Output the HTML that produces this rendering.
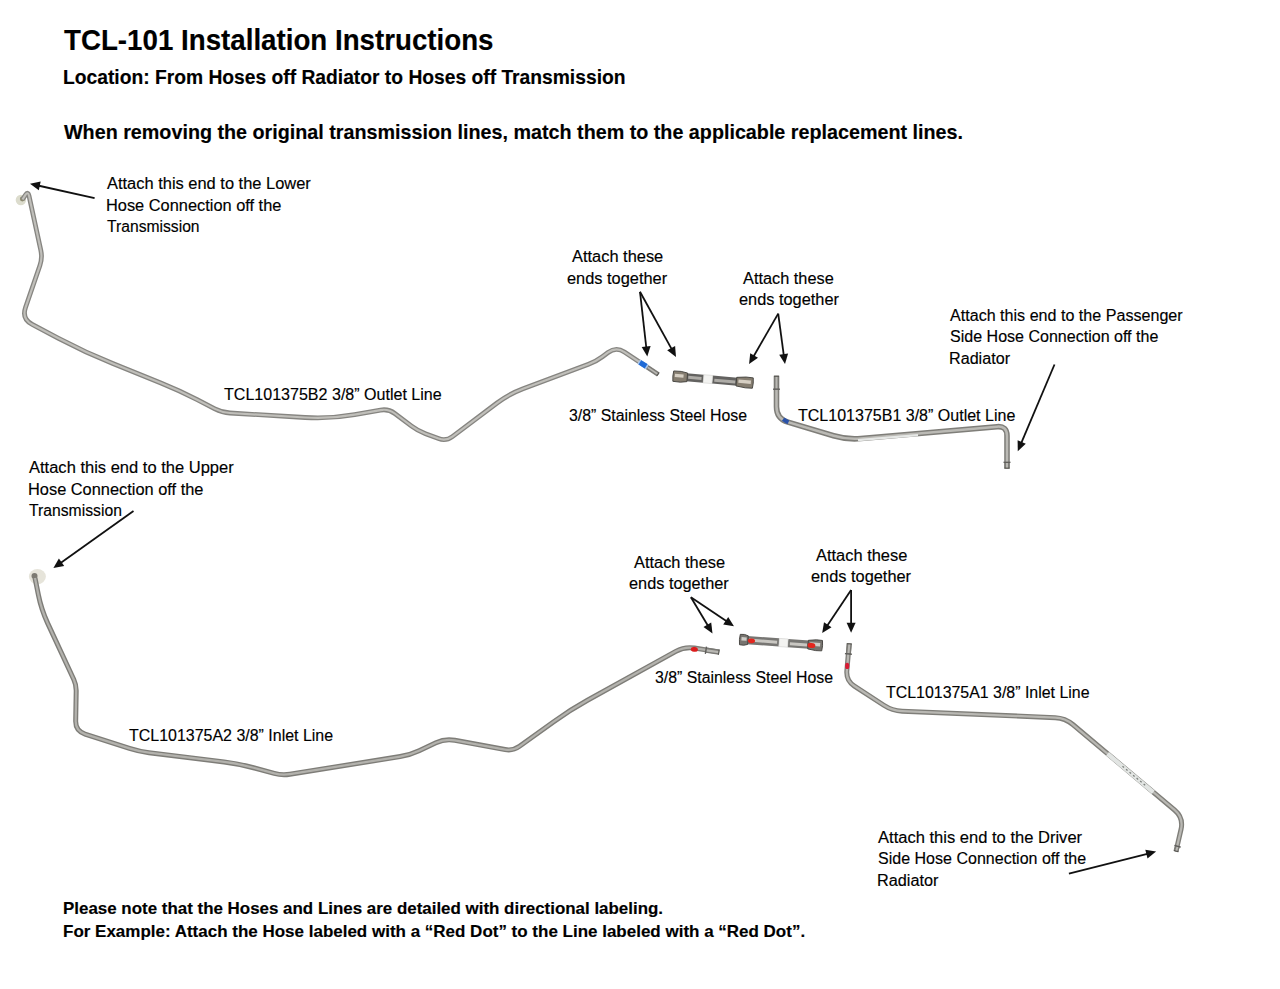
<!DOCTYPE html>
<html><head><meta charset="utf-8"><title>TCL-101 Installation Instructions</title>
<style>
html,body{margin:0;padding:0;background:#fff;}
body{width:1280px;height:989px;position:relative;overflow:hidden;font-family:"Liberation Sans",sans-serif;color:#000;}
.t{position:absolute;white-space:nowrap;line-height:1;transform-origin:0 0;color:#000;-webkit-text-stroke:0.15px #000;}
.b{font-weight:bold;}
svg{position:absolute;left:0;top:0;}
</style></head><body>
<svg width="1280" height="989" viewBox="0 0 1280 989"><circle cx="20.9" cy="200" r="5.2" fill="#dcdccd"/><circle cx="22.3" cy="199" r="2.4" fill="#8d8b72"/><ellipse cx="37.4" cy="576.6" rx="8.5" ry="7.6" fill="#e6e4da"/><circle cx="34.5" cy="576" r="3" fill="#7d7a72"/><path d="M22.5,199.5 L25.28,195.20 Q28.00,191.00 29.06,195.89 L40.81,250.18 Q42.50,258.00 39.90,265.57 L25.50,307.55 Q21.60,318.90 32.22,324.49 L58.46,338.32 Q85.00,352.30 112.80,363.58 L160.87,383.08 Q179.40,390.60 197.19,399.74 L214.89,408.84 Q222.00,412.50 229.99,412.98 L305.05,417.50 Q330.00,419.00 354.62,414.66 L380.52,410.09 Q388.40,408.70 394.79,413.51 L411.61,426.19 Q418.00,431.00 425.50,433.79 L438.50,438.61 Q446.00,441.40 452.39,436.59 L497.01,403.02 Q509.00,394.00 523.05,388.75 L588.51,364.30 Q596.00,361.50 602.41,356.72 L608.09,352.48 Q616.10,346.50 624.43,352.03 L658.3,374.5" fill="none" stroke="#868581" stroke-width="4.8" stroke-linejoin="round" stroke-linecap="butt"/><path d="M22.5,199.5 L25.28,195.20 Q28.00,191.00 29.06,195.89 L40.81,250.18 Q42.50,258.00 39.90,265.57 L25.50,307.55 Q21.60,318.90 32.22,324.49 L58.46,338.32 Q85.00,352.30 112.80,363.58 L160.87,383.08 Q179.40,390.60 197.19,399.74 L214.89,408.84 Q222.00,412.50 229.99,412.98 L305.05,417.50 Q330.00,419.00 354.62,414.66 L380.52,410.09 Q388.40,408.70 394.79,413.51 L411.61,426.19 Q418.00,431.00 425.50,433.79 L438.50,438.61 Q446.00,441.40 452.39,436.59 L497.01,403.02 Q509.00,394.00 523.05,388.75 L588.51,364.30 Q596.00,361.50 602.41,356.72 L608.09,352.48 Q616.10,346.50 624.43,352.03 L658.3,374.5" fill="none" stroke="#c0bfba" stroke-width="2.16" stroke-linejoin="round" stroke-linecap="butt"/><path d="M776.5,375.8 L776.50,406.70 Q776.50,418.70 788.00,422.14 L833.59,435.79 Q847.00,439.80 860.95,438.58 L997.04,426.67 Q1007.00,425.80 1007.00,435.80 L1007.0,468.4" fill="none" stroke="#7f7e79" stroke-width="5.6" stroke-linejoin="round" stroke-linecap="butt"/><path d="M776.5,375.8 L776.50,406.70 Q776.50,418.70 788.00,422.14 L833.59,435.79 Q847.00,439.80 860.95,438.58 L997.04,426.67 Q1007.00,425.80 1007.00,435.80 L1007.0,468.4" fill="none" stroke="#bbbab5" stroke-width="2.52" stroke-linejoin="round" stroke-linecap="butt"/><path d="M35.0,578.0 L38.36,594.79 Q41.30,609.50 47.61,623.11 L73.78,679.56 Q76.30,685.00 76.20,691.00 L75.67,721.00 Q75.50,731.00 85.02,734.07 L129.48,748.43 Q139.00,751.50 148.93,752.72 L224.11,761.97 Q239.00,763.80 253.47,767.74 L274.28,773.40 Q282.00,775.50 289.90,774.23 L400.13,756.58 Q410.00,755.00 419.05,750.74 L435.95,742.76 Q445.00,738.50 454.84,740.31 L505.13,749.55 Q513.00,751.00 519.49,746.33 L553.76,721.68 Q570.00,710.00 587.49,700.31 L675.85,651.35 Q684.60,646.50 694.47,648.08 L718.4,651.9" fill="none" stroke="#7e7d78" stroke-width="5.0" stroke-linejoin="round" stroke-linecap="butt"/><path d="M35.0,578.0 L38.36,594.79 Q41.30,609.50 47.61,623.11 L73.78,679.56 Q76.30,685.00 76.20,691.00 L75.67,721.00 Q75.50,731.00 85.02,734.07 L129.48,748.43 Q139.00,751.50 148.93,752.72 L224.11,761.97 Q239.00,763.80 253.47,767.74 L274.28,773.40 Q282.00,775.50 289.90,774.23 L400.13,756.58 Q410.00,755.00 419.05,750.74 L435.95,742.76 Q445.00,738.50 454.84,740.31 L505.13,749.55 Q513.00,751.00 519.49,746.33 L553.76,721.68 Q570.00,710.00 587.49,700.31 L675.85,651.35 Q684.60,646.50 694.47,648.08 L718.4,651.9" fill="none" stroke="#b3b2ad" stroke-width="2.25" stroke-linejoin="round" stroke-linecap="butt"/><path d="M849.2,643.5 L846.86,670.64 Q846.00,680.60 854.38,686.06 L883.82,705.24 Q892.20,710.70 902.19,711.13 L1055.21,717.67 Q1065.20,718.10 1072.86,724.53 L1174.51,809.98 Q1183.70,817.70 1181.02,829.40 L1176.0,851.3" fill="none" stroke="#7f7e79" stroke-width="5.0" stroke-linejoin="round" stroke-linecap="butt"/><path d="M849.2,643.5 L846.86,670.64 Q846.00,680.60 854.38,686.06 L883.82,705.24 Q892.20,710.70 902.19,711.13 L1055.21,717.67 Q1065.20,718.10 1072.86,724.53 L1174.51,809.98 Q1183.70,817.70 1181.02,829.40 L1176.0,851.3" fill="none" stroke="#b9b8b3" stroke-width="2.25" stroke-linejoin="round" stroke-linecap="butt"/><line x1="647.30" y1="367.10" x2="658.30" y2="374.50" stroke="#7a7975" stroke-width="3.9" stroke-linecap="butt"/><line x1="647.71" y1="367.38" x2="657.89" y2="374.22" stroke="#b9b8b3" stroke-width="1.638" stroke-linecap="butt"/><line x1="657.47" y1="373.94" x2="658.30" y2="374.50" stroke="#55544f" stroke-width="3.9" stroke-linecap="butt"/><line x1="776.50" y1="389.20" x2="776.50" y2="375.80" stroke="#7a7975" stroke-width="5.0" stroke-linecap="butt"/><line x1="776.50" y1="388.70" x2="776.50" y2="376.30" stroke="#b9b8b3" stroke-width="2.1" stroke-linecap="butt"/><line x1="776.50" y1="376.80" x2="776.50" y2="375.80" stroke="#55544f" stroke-width="5.0" stroke-linecap="butt"/><line x1="773.00" y1="389.20" x2="780.00" y2="389.20" stroke="#5e5d5a" stroke-width="1.3" stroke-linecap="butt"/><line x1="1007.00" y1="462.30" x2="1007.00" y2="468.60" stroke="#7a7975" stroke-width="5.0" stroke-linecap="butt"/><line x1="1007.00" y1="462.80" x2="1007.00" y2="468.10" stroke="#b9b8b3" stroke-width="2.1" stroke-linecap="butt"/><line x1="1007.00" y1="467.60" x2="1007.00" y2="468.60" stroke="#55544f" stroke-width="5.0" stroke-linecap="butt"/><line x1="1010.50" y1="462.30" x2="1003.50" y2="462.30" stroke="#5e5d5a" stroke-width="1.3" stroke-linecap="butt"/><line x1="705.90" y1="650.20" x2="719.30" y2="652.20" stroke="#7a7975" stroke-width="5.4" stroke-linecap="butt"/><line x1="706.39" y1="650.27" x2="718.81" y2="652.13" stroke="#b9b8b3" stroke-width="2.2680000000000002" stroke-linecap="butt"/><line x1="718.31" y1="652.05" x2="719.30" y2="652.20" stroke="#55544f" stroke-width="5.4" stroke-linecap="butt"/><line x1="706.45" y1="646.54" x2="705.35" y2="653.86" stroke="#5e5d5a" stroke-width="1.3" stroke-linecap="butt"/><line x1="848.40" y1="653.90" x2="849.40" y2="643.40" stroke="#7a7975" stroke-width="5.0" stroke-linecap="butt"/><line x1="848.45" y1="653.40" x2="849.35" y2="643.90" stroke="#b9b8b3" stroke-width="2.1" stroke-linecap="butt"/><line x1="849.31" y1="644.40" x2="849.40" y2="643.40" stroke="#55544f" stroke-width="5.0" stroke-linecap="butt"/><line x1="844.92" y1="653.57" x2="851.88" y2="654.23" stroke="#5e5d5a" stroke-width="1.3" stroke-linecap="butt"/><line x1="1177.60" y1="846.20" x2="1176.00" y2="851.60" stroke="#7a7975" stroke-width="4.6" stroke-linecap="butt"/><line x1="1177.46" y1="846.68" x2="1176.14" y2="851.12" stroke="#b9b8b3" stroke-width="1.9319999999999997" stroke-linecap="butt"/><line x1="1176.28" y1="850.64" x2="1176.00" y2="851.60" stroke="#55544f" stroke-width="4.6" stroke-linecap="butt"/><line x1="1180.76" y1="847.14" x2="1174.44" y2="845.26" stroke="#5e5d5a" stroke-width="1.3" stroke-linecap="butt"/><line x1="638.7" y1="361.6" x2="647.3" y2="367.1" stroke="#a9c8ee" stroke-width="5.2"/><line x1="639.9" y1="362.4" x2="646.1" y2="366.3" stroke="#1f6ad6" stroke-width="5.2"/><path d="M783.2,419.2 Q785.3,420.9 788.4,422.4" fill="none" stroke="#2a52a8" stroke-width="4.2"/><ellipse cx="694.3" cy="649.4" rx="3.6" ry="2.3" transform="rotate(8 694.3 649.4)" fill="#dc1c1c"/><ellipse cx="847.2" cy="665.9" rx="2.1" ry="3.2" fill="#d81c34"/><line x1="858" y1="440.2" x2="918" y2="435.2" stroke="#e6e8e6" stroke-width="2.2"/><line x1="1107.5" y1="753.8" x2="1153.3" y2="792.2" stroke="#e2e5e3" stroke-width="4.4"/><line x1="1122.5" y1="766.3" x2="1146" y2="786" stroke="#7d807d" stroke-width="1.3" stroke-dasharray="2 2.6"/><g transform="translate(672.8,376.1) rotate(4.97)"><rect x="13.5" y="-4.1" width="17.3" height="8.2" fill="#636260"/><rect x="39.7" y="-4.1" width="25.10377466430637" height="8.2" fill="#636260"/><rect x="15.5" y="-1.6" width="13.3" height="3" fill="#aeaca7"/><rect x="41.7" y="-1.0" width="21.10377466430637" height="3" fill="#aeaca7"/><rect x="30.8" y="-4.1" width="8.9" height="8.2" fill="#f3f3f1" stroke="#c9c9c6" stroke-width="0.5"/><path d="M0.5,-5.2 L7.98,-5.4 L14.5,-4.3 L14.5,4.3 L7.98,5.4 L0.5,5.2 Q-0.4,0 0.5,-5.2 Z" fill="#857d70" stroke="#44423e" stroke-width="0.9"/><rect x="2" y="-2.6" width="8.70" height="3.4" fill="#d6cfc3"/><path d="M80.30377466430637,-5.2 L73.15,-5.4 L63.803774664306374,-4.3 L63.803774664306374,4.3 L73.15,5.4 L80.30377466430637,5.2 Q81.20377466430638,0 80.30377466430637,-5.2 Z" fill="#857d70" stroke="#44423e" stroke-width="0.9"/><rect x="65.80377466430637" y="-2.4" width="12.50" height="3.4" fill="#d6cfc3"/></g><g transform="translate(739.4,639.5) rotate(4.26)"><rect x="7.6" y="-4.1" width="32.199999999999996" height="8.2" fill="#777673"/><rect x="48.599999999999994" y="-4.1" width="21.23068979698064" height="8.2" fill="#777673"/><rect x="9.6" y="-1.6" width="28.199999999999996" height="3" fill="#c9c7c2"/><rect x="50.599999999999994" y="-1.0" width="17.23068979698064" height="3" fill="#c9c7c2"/><rect x="39.8" y="-4.1" width="8.8" height="8.2" fill="#f3f3f1" stroke="#c9c9c6" stroke-width="0.5"/><path d="M0.5,-5.2 L4.73,-5.4 L8.6,-4.3 L8.6,4.3 L4.73,5.4 L0.5,5.2 Q-0.4,0 0.5,-5.2 Z" fill="#77746f" stroke="#44423e" stroke-width="0.9"/><rect x="2" y="-2.6" width="5.16" height="3.4" fill="#cfcdc8"/><path d="M82.93068979698063,-5.2 L76.86,-5.4 L68.83068979698064,-4.3 L68.83068979698064,4.3 L76.86,5.4 L82.93068979698063,5.2 Q83.83068979698064,0 82.93068979698063,-5.2 Z" fill="#77746f" stroke="#44423e" stroke-width="0.9"/><rect x="70.83068979698064" y="-2.4" width="10.10" height="3.4" fill="#cfcdc8"/><ellipse cx="12.1" cy="0.4" rx="3.6" ry="2.4" fill="#e3261e"/><ellipse cx="72.33068979698064" cy="0.6" rx="3.9" ry="2.6" fill="#e3261e"/></g><line x1="94.6" y1="198.2" x2="37.8" y2="185.5" stroke="#111" stroke-width="1.8"/><polygon points="30.0,183.7 40.7,181.5 38.8,190.3" fill="#111"/><line x1="640.0" y1="291.8" x2="646.4" y2="348.5" stroke="#111" stroke-width="1.8"/><polygon points="647.3,356.4 641.7,347.0 650.6,346.0" fill="#111"/><line x1="640.0" y1="291.8" x2="672.1" y2="349.9" stroke="#111" stroke-width="1.8"/><polygon points="676.0,356.9 667.2,350.3 675.1,346.0" fill="#111"/><line x1="778.2" y1="313.6" x2="753.1" y2="357.2" stroke="#111" stroke-width="1.8"/><polygon points="749.1,364.1 750.2,353.2 758.0,357.7" fill="#111"/><line x1="778.2" y1="313.6" x2="783.9" y2="356.2" stroke="#111" stroke-width="1.8"/><polygon points="785.0,364.1 779.2,354.8 788.1,353.6" fill="#111"/><line x1="1054.5" y1="364.5" x2="1020.9" y2="443.8" stroke="#111" stroke-width="1.8"/><polygon points="1017.8,451.2 1017.6,440.2 1025.8,443.7" fill="#111"/><line x1="133.5" y1="511.0" x2="59.9" y2="563.4" stroke="#111" stroke-width="1.8"/><polygon points="53.4,568.0 58.9,558.5 64.2,565.9" fill="#111"/><line x1="690.9" y1="597.2" x2="708.4" y2="626.5" stroke="#111" stroke-width="1.8"/><polygon points="712.5,633.4 703.5,627.1 711.2,622.5" fill="#111"/><line x1="690.9" y1="597.2" x2="727.4" y2="621.8" stroke="#111" stroke-width="1.8"/><polygon points="734.0,626.2 723.2,624.4 728.2,616.9" fill="#111"/><line x1="851.1" y1="590.1" x2="826.7" y2="626.5" stroke="#111" stroke-width="1.8"/><polygon points="822.2,633.1 824.0,622.3 831.5,627.3" fill="#111"/><line x1="851.1" y1="590.1" x2="851.1" y2="624.8" stroke="#111" stroke-width="1.8"/><polygon points="851.1,632.8 846.6,622.8 855.6,622.8" fill="#111"/><line x1="1068.9" y1="873.6" x2="1148.3" y2="853.6" stroke="#111" stroke-width="1.8"/><polygon points="1156.1,851.6 1147.5,858.4 1145.3,849.7" fill="#111"/></svg>
<div class="t b" style="left:63.80px;top:24.81px;font-size:30px;transform:scaleX(0.9236)">TCL-101 Installation Instructions</div>
<div class="t b" style="left:63.21px;top:67.99px;font-size:19.5px;transform:scaleX(0.9870)">Location: From Hoses off Radiator to Hoses off Transmission</div>
<div class="t b" style="left:64.40px;top:122.30px;font-size:20.2px;transform:scaleX(0.9773)">When removing the original transmission lines, match them to the applicable replacement lines.</div>
<div class="t" style="left:106.90px;top:175.89px;font-size:15.6px;transform:scaleX(1.0543)">Attach this end to the Lower</div>
<div class="t" style="left:105.85px;top:197.69px;font-size:15.6px;transform:scaleX(1.0499)">Hose Connection off the</div>
<div class="t" style="left:106.90px;top:219.49px;font-size:15.6px;transform:scaleX(1.0047)">Transmission</div>
<div class="t" style="left:224.00px;top:386.99px;font-size:15.6px;transform:scaleX(1.0292)">TCL101375B2 3/8” Outlet Line</div>
<div class="t" style="left:572.20px;top:249.04px;font-size:15.6px;transform:scaleX(1.0521)">Attach these</div>
<div class="t" style="left:567.00px;top:270.89px;font-size:15.6px;transform:scaleX(1.0497)">ends together</div>
<div class="t" style="left:743.10px;top:270.89px;font-size:15.6px;transform:scaleX(1.0463)">Attach these</div>
<div class="t" style="left:738.60px;top:292.39px;font-size:15.6px;transform:scaleX(1.0476)">ends together</div>
<div class="t" style="left:950.20px;top:307.59px;font-size:15.6px;transform:scaleX(1.0324)">Attach this end to the Passenger</div>
<div class="t" style="left:950.20px;top:328.89px;font-size:15.6px;transform:scaleX(1.0283)">Side Hose Connection off the</div>
<div class="t" style="left:949.16px;top:350.69px;font-size:15.6px;transform:scaleX(1.0355)">Radiator</div>
<div class="t" style="left:569.00px;top:408.39px;font-size:15.6px;transform:scaleX(1.0163)">3/8” Stainless Steel Hose</div>
<div class="t" style="left:798.40px;top:408.49px;font-size:15.6px;transform:scaleX(1.0273)">TCL101375B1 3/8” Outlet Line</div>
<div class="t" style="left:29.30px;top:460.29px;font-size:15.6px;transform:scaleX(1.0590)">Attach this end to the Upper</div>
<div class="t" style="left:28.25px;top:481.79px;font-size:15.6px;transform:scaleX(1.0505)">Hose Connection off the</div>
<div class="t" style="left:29.30px;top:503.39px;font-size:15.6px;transform:scaleX(1.0080)">Transmission</div>
<div class="t" style="left:633.60px;top:554.79px;font-size:15.6px;transform:scaleX(1.0510)">Attach these</div>
<div class="t" style="left:629.20px;top:576.19px;font-size:15.6px;transform:scaleX(1.0455)">ends together</div>
<div class="t" style="left:815.75px;top:547.69px;font-size:15.6px;transform:scaleX(1.0539)">Attach these</div>
<div class="t" style="left:811.25px;top:568.99px;font-size:15.6px;transform:scaleX(1.0491)">ends together</div>
<div class="t" style="left:655.20px;top:669.99px;font-size:15.6px;transform:scaleX(1.0165)">3/8” Stainless Steel Hose</div>
<div class="t" style="left:129.40px;top:728.49px;font-size:15.6px;transform:scaleX(1.0236)">TCL101375A2 3/8” Inlet Line</div>
<div class="t" style="left:885.90px;top:684.99px;font-size:15.6px;transform:scaleX(1.0208)">TCL101375A1 3/8” Inlet Line</div>
<div class="t" style="left:878.10px;top:829.99px;font-size:15.6px;transform:scaleX(1.0607)">Attach this end to the Driver</div>
<div class="t" style="left:878.10px;top:851.49px;font-size:15.6px;transform:scaleX(1.0278)">Side Hose Connection off the</div>
<div class="t" style="left:877.06px;top:873.49px;font-size:15.6px;transform:scaleX(1.0425)">Radiator</div>
<div class="t b" style="left:63.42px;top:899.86px;font-size:17.3px;transform:scaleX(0.9794)">Please note that the Hoses and Lines are detailed with directional labeling.</div>
<div class="t b" style="left:63.42px;top:922.76px;font-size:17.3px;transform:scaleX(0.9829)">For Example: Attach the Hose labeled with a “Red Dot” to the Line labeled with a “Red Dot”.</div>
</body></html>
